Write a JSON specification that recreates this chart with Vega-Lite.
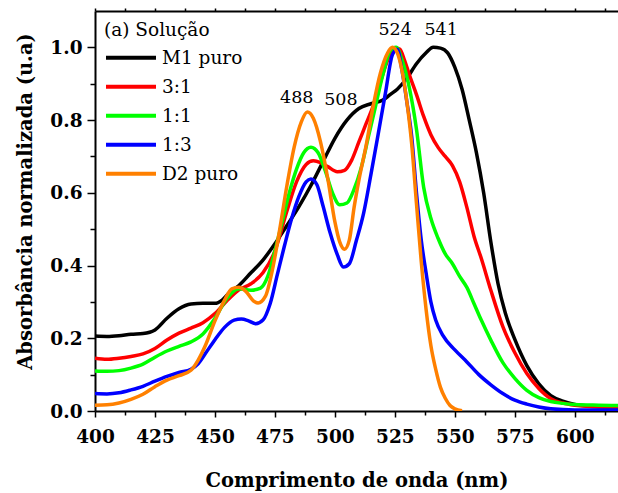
{
  "$schema": "https://vega.github.io/schema/vega-lite/v6.json",
  "width": 523,
  "height": 400,
  "autosize": {"type": "none"},
  "padding": {"left": 95, "top": 11, "right": 0, "bottom": 82},
  "background": "white",
  "config": {
    "view": {"stroke": null},
    "axis": {"grid": false, "domainColor": "black", "tickColor": "black", "labelColor": "black", "titleColor": "black"}
  },
  "datasets": {
    "spectra": [
      {"s":"M1 puro","x":400,"y":0.206},{"s":"M1 puro","x":405,"y":0.205},{"s":"M1 puro","x":410,"y":0.207},{"s":"M1 puro","x":415,"y":0.211},{"s":"M1 puro","x":420,"y":0.213},{"s":"M1 puro","x":425,"y":0.223},{"s":"M1 puro","x":430,"y":0.255},{"s":"M1 puro","x":435,"y":0.281},{"s":"M1 puro","x":440,"y":0.294},{"s":"M1 puro","x":445,"y":0.296},{"s":"M1 puro","x":450,"y":0.296},{"s":"M1 puro","x":453,"y":0.305},{"s":"M1 puro","x":456,"y":0.325},{"s":"M1 puro","x":460,"y":0.345},{"s":"M1 puro","x":465,"y":0.38},{"s":"M1 puro","x":470,"y":0.415},{"s":"M1 puro","x":475,"y":0.46},{"s":"M1 puro","x":480,"y":0.51},{"s":"M1 puro","x":485,"y":0.562},{"s":"M1 puro","x":490,"y":0.62},{"s":"M1 puro","x":495,"y":0.685},{"s":"M1 puro","x":500,"y":0.75},{"s":"M1 puro","x":505,"y":0.8},{"s":"M1 puro","x":510,"y":0.832},{"s":"M1 puro","x":515,"y":0.845},{"s":"M1 puro","x":520,"y":0.855},{"s":"M1 puro","x":523,"y":0.87},{"s":"M1 puro","x":526,"y":0.885},{"s":"M1 puro","x":530,"y":0.915},{"s":"M1 puro","x":534,"y":0.955},{"s":"M1 puro","x":538,"y":0.985},{"s":"M1 puro","x":541,"y":1.0},{"s":"M1 puro","x":544,"y":0.998},{"s":"M1 puro","x":547,"y":0.985},{"s":"M1 puro","x":550,"y":0.945},{"s":"M1 puro","x":553,"y":0.885},{"s":"M1 puro","x":556,"y":0.8},{"s":"M1 puro","x":559,"y":0.71},{"s":"M1 puro","x":562,"y":0.6},{"s":"M1 puro","x":565,"y":0.465},{"s":"M1 puro","x":568,"y":0.35},{"s":"M1 puro","x":571,"y":0.27},{"s":"M1 puro","x":575,"y":0.197},{"s":"M1 puro","x":580,"y":0.125},{"s":"M1 puro","x":585,"y":0.075},{"s":"M1 puro","x":590,"y":0.042},{"s":"M1 puro","x":595,"y":0.027},{"s":"M1 puro","x":600,"y":0.018},{"s":"M1 puro","x":605,"y":0.014},{"s":"M1 puro","x":610,"y":0.012},{"s":"M1 puro","x":618,"y":0.011},
      {"s":"3:1","x":400,"y":0.145},{"s":"3:1","x":405,"y":0.142},{"s":"3:1","x":410,"y":0.145},{"s":"3:1","x":415,"y":0.15},{"s":"3:1","x":420,"y":0.157},{"s":"3:1","x":425,"y":0.172},{"s":"3:1","x":430,"y":0.195},{"s":"3:1","x":435,"y":0.214},{"s":"3:1","x":440,"y":0.228},{"s":"3:1","x":445,"y":0.243},{"s":"3:1","x":450,"y":0.268},{"s":"3:1","x":455,"y":0.303},{"s":"3:1","x":460,"y":0.333},{"s":"3:1","x":465,"y":0.35},{"s":"3:1","x":470,"y":0.38},{"s":"3:1","x":475,"y":0.44},{"s":"3:1","x":480,"y":0.55},{"s":"3:1","x":484,"y":0.63},{"s":"3:1","x":488,"y":0.678},{"s":"3:1","x":491,"y":0.688},{"s":"3:1","x":494,"y":0.683},{"s":"3:1","x":497,"y":0.672},{"s":"3:1","x":501,"y":0.658},{"s":"3:1","x":504,"y":0.662},{"s":"3:1","x":507,"y":0.69},{"s":"3:1","x":510,"y":0.74},{"s":"3:1","x":513,"y":0.79},{"s":"3:1","x":516,"y":0.84},{"s":"3:1","x":519,"y":0.905},{"s":"3:1","x":522,"y":0.965},{"s":"3:1","x":525,"y":0.998},{"s":"3:1","x":527,"y":0.995},{"s":"3:1","x":529,"y":0.965},{"s":"3:1","x":531,"y":0.925},{"s":"3:1","x":534,"y":0.87},{"s":"3:1","x":537,"y":0.81},{"s":"3:1","x":540,"y":0.76},{"s":"3:1","x":543,"y":0.725},{"s":"3:1","x":546,"y":0.7},{"s":"3:1","x":549,"y":0.675},{"s":"3:1","x":552,"y":0.63},{"s":"3:1","x":555,"y":0.56},{"s":"3:1","x":558,"y":0.48},{"s":"3:1","x":561,"y":0.42},{"s":"3:1","x":565,"y":0.332},{"s":"3:1","x":570,"y":0.232},{"s":"3:1","x":575,"y":0.16},{"s":"3:1","x":580,"y":0.103},{"s":"3:1","x":585,"y":0.062},{"s":"3:1","x":590,"y":0.034},{"s":"3:1","x":595,"y":0.022},{"s":"3:1","x":600,"y":0.016},{"s":"3:1","x":605,"y":0.013},{"s":"3:1","x":610,"y":0.012},{"s":"3:1","x":618,"y":0.011},
      {"s":"1:1","x":400,"y":0.11},{"s":"1:1","x":405,"y":0.109},{"s":"1:1","x":410,"y":0.111},{"s":"1:1","x":415,"y":0.118},{"s":"1:1","x":420,"y":0.129},{"s":"1:1","x":425,"y":0.148},{"s":"1:1","x":430,"y":0.165},{"s":"1:1","x":435,"y":0.178},{"s":"1:1","x":440,"y":0.19},{"s":"1:1","x":445,"y":0.212},{"s":"1:1","x":450,"y":0.255},{"s":"1:1","x":455,"y":0.31},{"s":"1:1","x":460,"y":0.336},{"s":"1:1","x":465,"y":0.332},{"s":"1:1","x":469,"y":0.338},{"s":"1:1","x":472,"y":0.37},{"s":"1:1","x":475,"y":0.44},{"s":"1:1","x":478,"y":0.52},{"s":"1:1","x":481,"y":0.6},{"s":"1:1","x":484,"y":0.665},{"s":"1:1","x":487,"y":0.71},{"s":"1:1","x":490,"y":0.725},{"s":"1:1","x":493,"y":0.71},{"s":"1:1","x":496,"y":0.66},{"s":"1:1","x":499,"y":0.6},{"s":"1:1","x":502,"y":0.567},{"s":"1:1","x":505,"y":0.572},{"s":"1:1","x":508,"y":0.61},{"s":"1:1","x":511,"y":0.67},{"s":"1:1","x":514,"y":0.755},{"s":"1:1","x":517,"y":0.84},{"s":"1:1","x":520,"y":0.925},{"s":"1:1","x":523,"y":0.99},{"s":"1:1","x":525.5,"y":1.0},{"s":"1:1","x":528,"y":0.965},{"s":"1:1","x":531,"y":0.89},{"s":"1:1","x":534,"y":0.775},{"s":"1:1","x":537,"y":0.615},{"s":"1:1","x":540,"y":0.53},{"s":"1:1","x":543,"y":0.475},{"s":"1:1","x":546,"y":0.432},{"s":"1:1","x":549,"y":0.405},{"s":"1:1","x":552,"y":0.37},{"s":"1:1","x":555,"y":0.34},{"s":"1:1","x":558,"y":0.295},{"s":"1:1","x":561,"y":0.25},{"s":"1:1","x":565,"y":0.195},{"s":"1:1","x":570,"y":0.133},{"s":"1:1","x":575,"y":0.09},{"s":"1:1","x":580,"y":0.057},{"s":"1:1","x":585,"y":0.037},{"s":"1:1","x":590,"y":0.026},{"s":"1:1","x":595,"y":0.021},{"s":"1:1","x":600,"y":0.018},{"s":"1:1","x":610,"y":0.016},{"s":"1:1","x":618,"y":0.015},
      {"s":"1:3","x":400,"y":0.048},{"s":"1:3","x":405,"y":0.047},{"s":"1:3","x":410,"y":0.05},{"s":"1:3","x":415,"y":0.058},{"s":"1:3","x":420,"y":0.068},{"s":"1:3","x":425,"y":0.082},{"s":"1:3","x":430,"y":0.095},{"s":"1:3","x":435,"y":0.106},{"s":"1:3","x":440,"y":0.115},{"s":"1:3","x":443,"y":0.13},{"s":"1:3","x":446,"y":0.158},{"s":"1:3","x":450,"y":0.196},{"s":"1:3","x":454,"y":0.23},{"s":"1:3","x":458,"y":0.25},{"s":"1:3","x":461,"y":0.253},{"s":"1:3","x":464,"y":0.248},{"s":"1:3","x":467,"y":0.24},{"s":"1:3","x":470,"y":0.25},{"s":"1:3","x":473,"y":0.295},{"s":"1:3","x":476,"y":0.375},{"s":"1:3","x":479,"y":0.455},{"s":"1:3","x":482,"y":0.53},{"s":"1:3","x":485,"y":0.59},{"s":"1:3","x":488,"y":0.63},{"s":"1:3","x":490,"y":0.638},{"s":"1:3","x":492.5,"y":0.622},{"s":"1:3","x":495,"y":0.565},{"s":"1:3","x":498,"y":0.49},{"s":"1:3","x":501,"y":0.43},{"s":"1:3","x":503.5,"y":0.396},{"s":"1:3","x":506,"y":0.405},{"s":"1:3","x":509,"y":0.47},{"s":"1:3","x":512,"y":0.545},{"s":"1:3","x":515,"y":0.65},{"s":"1:3","x":518,"y":0.76},{"s":"1:3","x":521,"y":0.872},{"s":"1:3","x":524,"y":0.98},{"s":"1:3","x":526,"y":0.995},{"s":"1:3","x":528,"y":0.935},{"s":"1:3","x":530,"y":0.85},{"s":"1:3","x":532,"y":0.755},{"s":"1:3","x":534,"y":0.6},{"s":"1:3","x":536,"y":0.47},{"s":"1:3","x":538,"y":0.38},{"s":"1:3","x":540,"y":0.3},{"s":"1:3","x":542,"y":0.25},{"s":"1:3","x":545,"y":0.208},{"s":"1:3","x":550,"y":0.168},{"s":"1:3","x":555,"y":0.135},{"s":"1:3","x":560,"y":0.1},{"s":"1:3","x":565,"y":0.072},{"s":"1:3","x":570,"y":0.048},{"s":"1:3","x":575,"y":0.03},{"s":"1:3","x":580,"y":0.019},{"s":"1:3","x":585,"y":0.011},{"s":"1:3","x":590,"y":0.006},{"s":"1:3","x":600,"y":0.003},{"s":"1:3","x":618,"y":0.003},
      {"s":"D2 puro","x":400,"y":0.016},{"s":"D2 puro","x":405,"y":0.017},{"s":"D2 puro","x":410,"y":0.022},{"s":"D2 puro","x":415,"y":0.032},{"s":"D2 puro","x":420,"y":0.046},{"s":"D2 puro","x":425,"y":0.067},{"s":"D2 puro","x":430,"y":0.085},{"s":"D2 puro","x":435,"y":0.097},{"s":"D2 puro","x":440,"y":0.112},{"s":"D2 puro","x":443,"y":0.14},{"s":"D2 puro","x":446,"y":0.18},{"s":"D2 puro","x":450,"y":0.248},{"s":"D2 puro","x":454,"y":0.305},{"s":"D2 puro","x":457,"y":0.336},{"s":"D2 puro","x":460,"y":0.34},{"s":"D2 puro","x":463,"y":0.328},{"s":"D2 puro","x":466,"y":0.303},{"s":"D2 puro","x":468,"y":0.297},{"s":"D2 puro","x":471,"y":0.315},{"s":"D2 puro","x":474,"y":0.39},{"s":"D2 puro","x":477,"y":0.5},{"s":"D2 puro","x":480,"y":0.62},{"s":"D2 puro","x":483,"y":0.725},{"s":"D2 puro","x":486,"y":0.795},{"s":"D2 puro","x":488.5,"y":0.822},{"s":"D2 puro","x":491,"y":0.805},{"s":"D2 puro","x":494,"y":0.74},{"s":"D2 puro","x":497,"y":0.64},{"s":"D2 puro","x":500,"y":0.52},{"s":"D2 puro","x":502,"y":0.465},{"s":"D2 puro","x":504,"y":0.445},{"s":"D2 puro","x":506,"y":0.47},{"s":"D2 puro","x":508,"y":0.56},{"s":"D2 puro","x":510,"y":0.635},{"s":"D2 puro","x":513,"y":0.73},{"s":"D2 puro","x":516,"y":0.84},{"s":"D2 puro","x":519,"y":0.93},{"s":"D2 puro","x":522,"y":0.985},{"s":"D2 puro","x":524,"y":1.0},{"s":"D2 puro","x":526,"y":0.985},{"s":"D2 puro","x":528,"y":0.935},{"s":"D2 puro","x":530,"y":0.85},{"s":"D2 puro","x":532,"y":0.735},{"s":"D2 puro","x":534,"y":0.57},{"s":"D2 puro","x":536,"y":0.41},{"s":"D2 puro","x":538,"y":0.28},{"s":"D2 puro","x":540,"y":0.18},{"s":"D2 puro","x":542,"y":0.115},{"s":"D2 puro","x":544,"y":0.065},{"s":"D2 puro","x":546,"y":0.035},{"s":"D2 puro","x":548,"y":0.015},{"s":"D2 puro","x":550,"y":0.006},{"s":"D2 puro","x":553,"y":0.001}
    ],
    "peaks": [
      {"label":"488","x":484.1,"y":0.86},
      {"label":"508","x":502.5,"y":0.856},
      {"label":"524","x":525.1,"y":1.048},
      {"label":"541","x":544.3,"y":1.048}
    ]
  },
  "resolve": {
    "scale": {"x": "independent", "y": "independent"},
    "axis": {"x": "independent", "y": "independent"}
  },
  "layer": [
    {
      "data": {"name": "spectra"},
      "mark": {"type": "line", "strokeWidth": 3.5, "interpolate": "monotone", "clip": true},
      "encoding": {
        "x": {
          "field": "x", "type": "quantitative",
          "scale": {"domain": [400, 618], "nice": false, "zero": false},
          "axis": {
            "orient": "bottom",
            "values": [400, 425, 450, 475, 500, 525, 550, 575, 600],
            "tickSize": 6, "tickWidth": 1.5, "domainWidth": 2,
            "labelFont": "DejaVu Serif", "labelFontWeight": "bold", "labelFontSize": 18.5,
            "labelPadding": 10, "labelFlush": false,
            "title": "Comprimento de onda (nm)",
            "titleFont": "DejaVu Serif", "titleFontWeight": "bold", "titleFontSize": 19.5,
            "titleY": 69, "titleBaseline": "middle"
          }
        },
        "y": {
          "field": "y", "type": "quantitative",
          "scale": {"domain": [0, 1.1], "nice": false, "zero": false},
          "axis": {
            "orient": "left",
            "values": [0, 0.2, 0.4, 0.6, 0.8, 1.0],
            "format": ".1f",
            "tickSize": 8, "tickWidth": 1.5, "domainWidth": 2,
            "labelFont": "DejaVu Serif", "labelFontWeight": "bold", "labelFontSize": 18.5,
            "labelPadding": 5,
            "title": "Absorbância normalizada (u.a)",
            "titleFont": "DejaVu Serif", "titleFontWeight": "bold", "titleFontSize": 19.5,
            "titleX": -70, "titleY": 190, "titleBaseline": "middle", "titleAlign": "center"
          }
        },
        "color": {
          "field": "s", "type": "nominal",
          "scale": {
            "domain": ["M1 puro", "3:1", "1:1", "1:3", "D2 puro"],
            "range": ["#000000", "#ff0000", "#00ff00", "#0000ff", "#ff8000"]
          },
          "legend": {
            "orient": "none", "legendX": 9, "legendY": 10,
            "title": "(a) Solução",
            "titleFont": "DejaVu Serif", "titleFontWeight": "normal", "titleFontSize": 18.5, "titleColor": "black",
            "titlePadding": 4,
            "symbolType": "stroke", "symbolSize": 2500, "symbolStrokeWidth": 4,
            "labelFont": "DejaVu Serif", "labelFontSize": 18.5, "labelColor": "black", "labelOffset": 4,
            "clipHeight": 28.4, "rowPadding": 0
          }
        }
      }
    },
    {
      "data": {"name": "peaks"},
      "mark": {"type": "text", "font": "DejaVu Serif", "fontSize": 17.5, "align": "center", "baseline": "middle", "color": "black"},
      "encoding": {
        "x": {
          "field": "x", "type": "quantitative",
          "scale": {"domain": [400, 618], "nice": false, "zero": false},
          "axis": {
            "orient": "bottom",
            "values": [412.5, 437.5, 462.5, 487.5, 512.5, 537.5, 562.5, 587.5, 612.5],
            "labels": false, "domain": false, "tickSize": 4, "tickWidth": 1.5, "title": null
          }
        },
        "y": {
          "field": "y", "type": "quantitative",
          "scale": {"domain": [0, 1.1], "nice": false, "zero": false},
          "axis": {
            "orient": "left",
            "values": [0.1, 0.3, 0.5, 0.7, 0.9],
            "labels": false, "domain": false, "tickSize": 5, "tickWidth": 1.5, "title": null
          }
        },
        "text": {"field": "label", "type": "nominal"}
      }
    },
    {
      "data": {"name": "peaks"},
      "mark": {"type": "rule", "opacity": 0},
      "encoding": {
        "x": {
          "field": "x", "type": "quantitative",
          "scale": {"domain": [400, 618], "nice": false, "zero": false},
          "axis": {
            "orient": "top",
            "values": [400, 412.5, 425, 437.5, 450, 462.5, 475, 487.5, 500, 512.5, 525, 537.5, 550, 562.5, 575, 587.5, 600, 612.5],
            "labels": false, "domainWidth": 2, "tickSize": 3, "tickWidth": 1.5, "title": null
          }
        }
      }
    }
  ]
}
